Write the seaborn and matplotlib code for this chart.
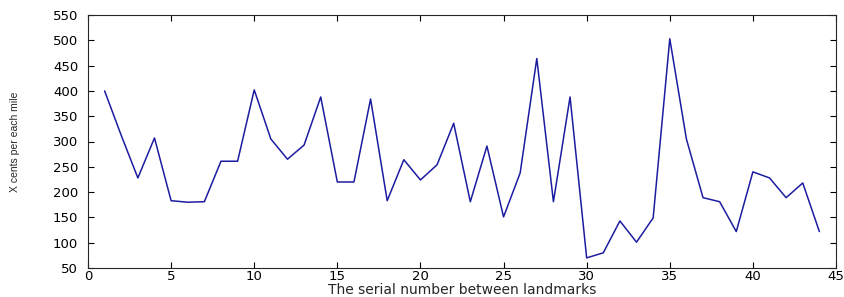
import matplotlib
matplotlib.use("Agg")
import matplotlib.pyplot as plt
import seaborn as sns
import pandas as pd

# 구간 번호와 마일당 비용
serial_no = list(range(1, 45))
cents_per_mile = [
    400, 312, 228, 307, 183, 180, 181, 261, 261, 402,
    305, 265, 293, 388, 220, 220, 384, 183, 264, 224,
    254, 336, 181, 291, 151, 238, 464, 181, 388, 70,
    80, 143, 101, 149, 503, 305, 189, 181, 122, 240,
    228, 189, 218, 122,
]

x_ticks = [0, 5, 10, 15, 20, 25, 30, 35, 40, 45]
y_ticks = [50, 100, 150, 200, 250, 300, 350, 400, 450, 500, 550]

sns.set_style("ticks")
plt.rcParams['font.family'] = ['DejaVu Sans']

df = pd.DataFrame({'serial': serial_no, 'cents': cents_per_mile})

fig = plt.figure(figsize=(8.45, 2.97), dpi=100)
ax = fig.add_axes([88 / 845, 29 / 297, 748 / 845, 253 / 297])

sns.lineplot(data=df, x='serial', y='cents', ax=ax, color='#1c1ca0', linewidth=1.1)

ax.set_xlim(0, 45)
ax.set_ylim(50, 550)
ax.set_xticks(x_ticks)
ax.set_yticks(y_ticks)
ax.tick_params(direction='in', top=True, right=True, length=4, width=0.8,
               labelsize=9.5, colors='black')
ax.tick_params(axis='x', pad=1.5)
ax.tick_params(axis='y', pad=7)
for spine in ax.spines.values():
    spine.set_linewidth(0.8)
    spine.set_visible(True)

ax.set_xlabel('The serial number between landmarks', fontsize=10)
ax.xaxis.set_label_coords(0.5, -15.5 / 253)
ax.set_ylabel('X cents per each mile', fontsize=7.5, family='Liberation Sans')
ax.yaxis.set_label_coords(-68 / 748, 0.5)

fig.savefig('out.png', dpi=100)
